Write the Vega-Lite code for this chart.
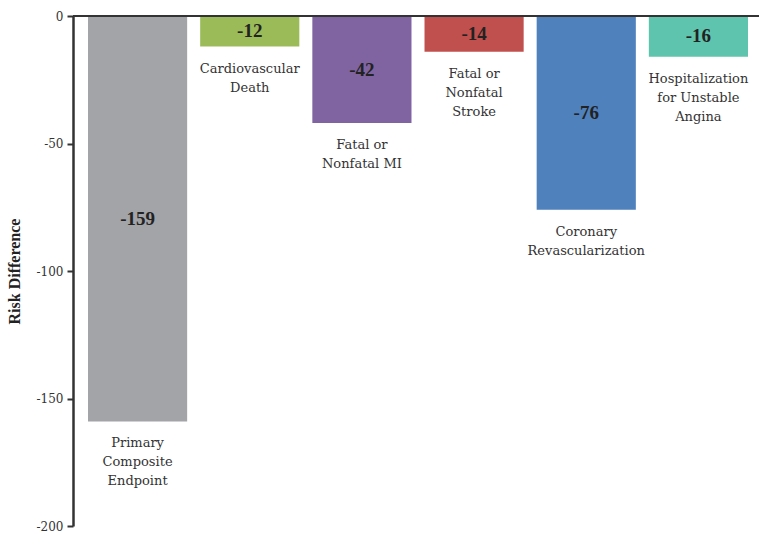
{
  "$schema": "https://vega.github.io/schema/vega-lite/v6.json",
  "width": 686,
  "height": 510,
  "autosize": {"type": "none"},
  "padding": {"left": 73, "top": 16, "right": 0, "bottom": 8},
  "background": "white",
  "config": {
    "view": {"stroke": null},
    "font": "DejaVu Serif"
  },
  "data": {
    "values": [
      {"outcome": "Primary Composite Endpoint", "label": ["Primary", "Composite", "Endpoint"], "value": -159},
      {"outcome": "Cardiovascular Death", "label": ["Cardiovascular", "Death"], "value": -12},
      {"outcome": "Fatal or Nonfatal MI", "label": ["Fatal or", "Nonfatal MI"], "value": -42},
      {"outcome": "Fatal or Nonfatal Stroke", "label": ["Fatal or", "Nonfatal", "Stroke"], "value": -14},
      {"outcome": "Coronary Revascularization", "label": ["Coronary", "Revascularization"], "value": -76},
      {"outcome": "Hospitalization for Unstable Angina", "label": ["Hospitalization", "for Unstable", "Angina"], "value": -16}
    ]
  },
  "resolve": {"scale": {"y": "independent"}},
  "layer": [
    {
      "layer": [
        {
          "mark": {"type": "bar"},
          "encoding": {
            "x": {
              "field": "outcome", "type": "nominal", "sort": null,
              "scale": {"range": [15, 675], "paddingInner": 0.116, "paddingOuter": 0},
              "axis": null
            },
            "y": {
              "field": "value", "type": "quantitative",
              "scale": {"domain": [-200, 0], "nice": false},
              "axis": {
                "values": [0, -50, -100, -150, -200],
                "labelExpr": "datum.value == 0 ? '0' : '-' + abs(datum.value)",
                "title": "Risk Difference",
                "titleFont": "Liberation Serif",
                "titleFontSize": 16,
                "titleFontWeight": "bold",
                "titleColor": "#222222",
                "titlePadding": 14,
                "labelFont": "DejaVu Serif",
                "labelFontSize": 12,
                "labelColor": "#333333",
                "labelPadding": 4,
                "tickSize": 6,
                "tickWidth": 2,
                "tickColor": "#333333",
                "domainColor": "#333333",
                "domainWidth": 2.5,
                "grid": false
              }
            },
            "color": {
              "field": "outcome", "type": "nominal",
              "scale": {
                "domain": [
                  "Primary Composite Endpoint",
                  "Cardiovascular Death",
                  "Fatal or Nonfatal MI",
                  "Fatal or Nonfatal Stroke",
                  "Coronary Revascularization",
                  "Hospitalization for Unstable Angina"
                ],
                "range": ["#A3A4A8", "#9BBB59", "#8064A2", "#C0504D", "#4F81BD", "#5FC4AE"]
              },
              "legend": null
            }
          }
        },
        {
          "mark": {"type": "text", "baseline": "top", "dy": 16, "fontSize": 13, "lineHeight": 19, "color": "#333333", "font": "DejaVu Serif"},
          "encoding": {
            "x": {"field": "outcome", "type": "nominal", "sort": null},
            "y": {"field": "value", "type": "quantitative"},
            "text": {"field": "label"}
          }
        },
        {
          "mark": {"type": "rule", "color": "#333333", "strokeWidth": 2},
          "encoding": {"y": {"datum": 0}}
        }
      ]
    },
    {
      "mark": {"type": "text", "baseline": "middle", "fontSize": 19, "fontWeight": "bold", "color": "#222222", "font": "Liberation Serif"},
      "encoding": {
        "x": {"field": "outcome", "type": "nominal", "sort": null},
        "y": {
          "field": "value", "type": "quantitative",
          "scale": {"domain": [-400, 0], "nice": false},
          "axis": null
        },
        "text": {"field": "value", "type": "nominal"}
      }
    }
  ]
}
